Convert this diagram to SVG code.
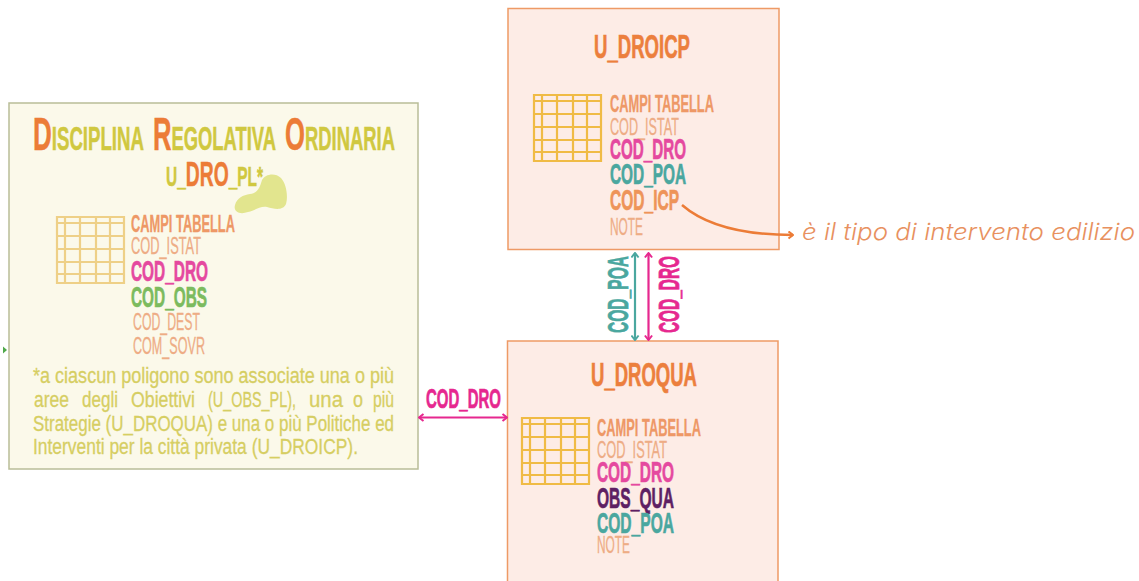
<svg xmlns="http://www.w3.org/2000/svg" width="1139" height="581" viewBox="0 0 1139 581">
<style>
text{font-family:"Liberation Sans",Arial,sans-serif;}
.box{fill:#fdece6;stroke:#ee9a66;stroke-width:1.5}
.t{fill:#ec7f3d;stroke:#ec7f3d;stroke-width:.7;font-size:34px;font-weight:700}
.h{fill:#ee9866;stroke:#ee9866;stroke-width:.3;font-size:24px;font-weight:700}
.f{fill:#eeac85;stroke:#eeac85;stroke-width:.3;font-size:23.5px}
.k{font-size:30px;font-weight:700;stroke-width:.7}
.pink{fill:#e5499f;stroke:#e5499f}.teal{fill:#4aa79f;stroke:#4aa79f}.or{fill:#ee9459;stroke:#ee9459}.pur{fill:#5e1f63;stroke:#5e1f63}.grn{fill:#7cbb5e;stroke:#7cbb5e}
.y{fill:#d0c840;stroke:#d0c840;stroke-width:.5;font-weight:700}.o{fill:#ec7c37;stroke:#ec7c37}
.p{fill:#d6ce62;stroke:#d6ce62;stroke-width:.3;font-size:22.5px}
.grid{fill:none;stroke:#f0bb45;stroke-width:2.2}
.c{fill:none;stroke-width:2.2}
.cl{font-size:27px;font-weight:700;stroke-width:.7}
</style>
<defs>
<path id="g" d="M0 0H67V66H0ZM8 0V66M23 0V66M39 0V66M53 0V66M0 6H67M0 19H67M0 32H67M0 45H67M0 57H67"/>
<marker id="mp" viewBox="0 0 10 10" refX="8.500" refY="5" markerWidth="9" markerHeight="9" orient="auto-start-reverse" markerUnits="userSpaceOnUse"><path d="M3.500 1L8.500 5L3.500 9" fill="none" stroke="#e6288f" stroke-width="2.200"/></marker>
<marker id="mt" viewBox="0 0 10 10" refX="8.500" refY="5" markerWidth="9" markerHeight="9" orient="auto-start-reverse" markerUnits="userSpaceOnUse"><path d="M3.500 1L8.500 5L3.500 9" fill="none" stroke="#4aa79f" stroke-width="2.200"/></marker>
<marker id="mo" viewBox="0 0 10 10" refX="8.500" refY="5" markerWidth="9" markerHeight="9" orient="auto" markerUnits="userSpaceOnUse"><path d="M3.500 1L8.500 5L3.500 9" fill="none" stroke="#ec7c37" stroke-width="2.200"/></marker>
</defs>
<rect width="1139" height="581" fill="#fff"/>
<polygon points="3,346.500 7,350 3,353.500" fill="#4fa84a"/>
<g id="node-disciplina">
<rect x="9" y="103" width="409" height="366" fill="#fbf9ea" stroke="#b9bd98" stroke-width="1.500"/>
<path d="M235 205C237 198 243 195 250 194C258 193 260 187 262 180C265 174 275 172 281 178C287 185 288 197 286 204C283 211 274 209 267 207C260 206 256 210 248 212C240 215 233 212 235 205Z" fill="#e2e58e"/>
<text x="33" y="150" textLength="111" lengthAdjust="spacingAndGlyphs" font-size="33" class="y"><tspan class="o" font-size="46">D</tspan>ISCIPLINA</text>
<text x="153" y="150" textLength="123" lengthAdjust="spacingAndGlyphs" font-size="33" class="y"><tspan class="o" font-size="46">R</tspan>EGOLATIVA</text>
<text x="285" y="150" textLength="110" lengthAdjust="spacingAndGlyphs" font-size="33" class="y"><tspan class="o" font-size="46">O</tspan>RDINARIA</text>
<text x="166" y="186" textLength="97" lengthAdjust="spacingAndGlyphs" font-size="28" class="y">U_<tspan class="o" font-size="35">DRO</tspan>_PL*</text>
<use href="#g" x="57" y="217" style="stroke:#eed087" class="grid"/>
<text class="h" x="131" y="232" textLength="104" lengthAdjust="spacingAndGlyphs">CAMPI TABELLA</text>
<text class="f" x="131" y="254" textLength="70" lengthAdjust="spacingAndGlyphs">COD_ISTAT</text>
<text class="k pink" x="131" y="281" textLength="77" lengthAdjust="spacingAndGlyphs">COD_DRO</text>
<text class="k grn" x="131" y="307" textLength="76" lengthAdjust="spacingAndGlyphs">COD_OBS</text>
<text class="f" x="133" y="330" textLength="67" lengthAdjust="spacingAndGlyphs">COD_DEST</text>
<text class="f" x="133" y="354" textLength="72" lengthAdjust="spacingAndGlyphs">COM_SOVR</text>
<text class="p" x="33" y="383" textLength="361" lengthAdjust="spacingAndGlyphs">*a ciascun poligono sono associate una o più</text>
<text class="p" x="34" y="407" textLength="35" lengthAdjust="spacingAndGlyphs">aree</text>
<text class="p" x="82" y="407" textLength="36" lengthAdjust="spacingAndGlyphs">degli</text>
<text class="p" x="131" y="407" textLength="64" lengthAdjust="spacingAndGlyphs">Obiettivi</text>
<text class="p" x="208" y="407" textLength="88" lengthAdjust="spacingAndGlyphs">(U_OBS_PL),</text>
<text class="p" x="309" y="407" textLength="34" lengthAdjust="spacingAndGlyphs">una</text>
<text class="p" x="353" y="407" textLength="10" lengthAdjust="spacingAndGlyphs">o</text>
<text class="p" x="373" y="407" textLength="21" lengthAdjust="spacingAndGlyphs">più</text>
<text class="p" x="33" y="431" textLength="361" lengthAdjust="spacingAndGlyphs">Strategie (U_DROQUA) e una o più Politiche ed</text>
<text class="p" x="33" y="454" textLength="325" lengthAdjust="spacingAndGlyphs">Interventi per la città privata (U_DROICP).</text>
</g>
<g id="node-droicp">
<rect class="box" x="508" y="8.500" width="271" height="241"/>
<text class="t" x="594" y="58" textLength="96" lengthAdjust="spacingAndGlyphs">U_DROICP</text>
<use href="#g" x="534" y="95" class="grid"/>
<text class="h" x="610" y="112" textLength="104" lengthAdjust="spacingAndGlyphs">CAMPI TABELLA</text>
<text class="f" x="610" y="135" textLength="69" lengthAdjust="spacingAndGlyphs">COD_ISTAT</text>
<text class="k pink" x="610" y="159" textLength="76" lengthAdjust="spacingAndGlyphs">COD_DRO</text>
<text class="k teal" x="610" y="184" textLength="76" lengthAdjust="spacingAndGlyphs">COD_POA</text>
<text class="k or" x="610" y="210" textLength="69" lengthAdjust="spacingAndGlyphs">COD_ICP</text>
<text class="f" x="610" y="235" textLength="33" lengthAdjust="spacingAndGlyphs">NOTE</text>
</g>
<g id="node-droqua">
<rect class="box" x="507.500" y="341" width="270.500" height="260"/>
<text class="t" x="591" y="386" textLength="106" lengthAdjust="spacingAndGlyphs">U_DROQUA</text>
<use href="#g" x="522" y="418" class="grid"/>
<text class="h" x="597" y="436" textLength="104" lengthAdjust="spacingAndGlyphs">CAMPI TABELLA</text>
<text class="f" x="597" y="458" textLength="70" lengthAdjust="spacingAndGlyphs">COD_ISTAT</text>
<text class="k pink" x="597" y="482" textLength="77" lengthAdjust="spacingAndGlyphs">COD_DRO</text>
<text class="k pur" x="597" y="508" textLength="77" lengthAdjust="spacingAndGlyphs">OBS_QUA</text>
<text class="k teal" x="597" y="533" textLength="77" lengthAdjust="spacingAndGlyphs">COD_POA</text>
<text class="f" x="597" y="553" textLength="33" lengthAdjust="spacingAndGlyphs">NOTE</text>
</g>
<g id="connectors">
<line class="c" x1="419" y1="417.500" x2="507" y2="417.500" stroke="#e6288f" marker-start="url(#mp)" marker-end="url(#mp)"/>
<line class="c" x1="635" y1="253" x2="635" y2="340" stroke="#4aa79f" marker-start="url(#mt)" marker-end="url(#mt)"/>
<line class="c" x1="648.500" y1="253" x2="648.500" y2="340" stroke="#e6288f" marker-start="url(#mp)" marker-end="url(#mp)"/>
<path class="c" d="M682 205C705 225 740 235 793 235" stroke="#ec7c37" style="stroke-width:2.500" marker-end="url(#mo)"/>
<text class="cl" x="426" y="408" textLength="75" lengthAdjust="spacingAndGlyphs" fill="#e6288f" stroke="#e6288f">COD_DRO</text>
<text class="cl" transform="translate(628 333) rotate(-90)" textLength="77" lengthAdjust="spacingAndGlyphs" style="font-size:30px" fill="#4aa79f" stroke="#4aa79f">COD_POA</text>
<text class="cl" transform="translate(679 333) rotate(-90)" textLength="77" lengthAdjust="spacingAndGlyphs" style="font-size:30px" fill="#e6288f" stroke="#e6288f">COD_DRO</text>
<text x="802" y="240" textLength="333" lengthAdjust="spacingAndGlyphs" style="font-family:Inter,'Open Sans',sans-serif" font-size="23.500" font-style="italic" font-weight="300" fill="#e8915f">è il tipo di intervento edilizio</text>
</g>
</svg>
